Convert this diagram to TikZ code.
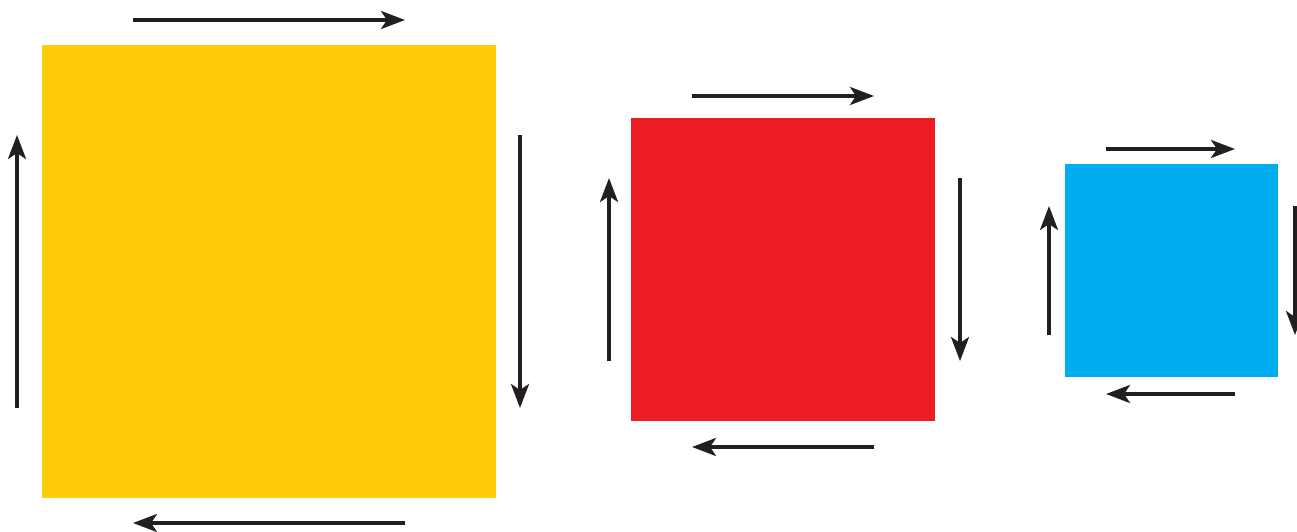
\documentclass[tikz,border=0pt]{standalone}
\usetikzlibrary{arrows.meta}
\definecolor{giallo}{HTML}{FFCB0B}
\definecolor{rosso}{HTML}{ED1C24}
\definecolor{azzurro}{HTML}{00ADEF}
\definecolor{freccia}{HTML}{231F20}
\begin{document}
\begin{tikzpicture}[x=1pt,y=-1pt,
    verso/.style={draw=freccia, line width=3.6pt, -{Stealth[length=24pt,width=18pt,inset=6pt]}}]

    \useasboundingbox (0,0) rectangle (1297,532);

    % Quadrati
    \fill[giallo] (42,45) rectangle (496,498);
    \fill[rosso] (631,118) rectangle (935,421);
    \fill[azzurro] (1065,164) rectangle (1278,377);

    % Frecce quadrato giallo
    \coordinate (ga) at (133,20);  \coordinate (gb) at (405,20);
    \coordinate (gc) at (520,135); \coordinate (gd) at (520,408);
    \coordinate (ge) at (405,523); \coordinate (gf) at (133,523);
    \coordinate (gg) at (17,408);  \coordinate (gh) at (17,135);
    \draw[verso] (ga) -- (gb);
    \draw[verso] (gc) -- (gd);
    \draw[verso] (ge) -- (gf);
    \draw[verso] (gg) -- (gh);

    % Frecce quadrato rosso
    \coordinate (ra) at (692,96);  \coordinate (rb) at (874,96);
    \coordinate (rc) at (960,178); \coordinate (rd) at (960,361);
    \coordinate (re) at (874,447); \coordinate (rf) at (692,447);
    \coordinate (rg) at (609,361); \coordinate (rh) at (609,178);
    \draw[verso] (ra) -- (rb);
    \draw[verso] (rc) -- (rd);
    \draw[verso] (re) -- (rf);
    \draw[verso] (rg) -- (rh);

    % Frecce quadrato azzurro
    \coordinate (aa) at (1106,149); \coordinate (ab) at (1235,149);
    \coordinate (ac) at (1295,206); \coordinate (ad) at (1295,335);
    \coordinate (ae) at (1235,394); \coordinate (af) at (1106,394);
    \coordinate (ag) at (1049,335); \coordinate (ah) at (1049,206);
    \draw[verso] (aa) -- (ab);
    \draw[verso] (ac) -- (ad);
    \draw[verso] (ae) -- (af);
    \draw[verso] (ag) -- (ah);

\end{tikzpicture}
\end{document}
